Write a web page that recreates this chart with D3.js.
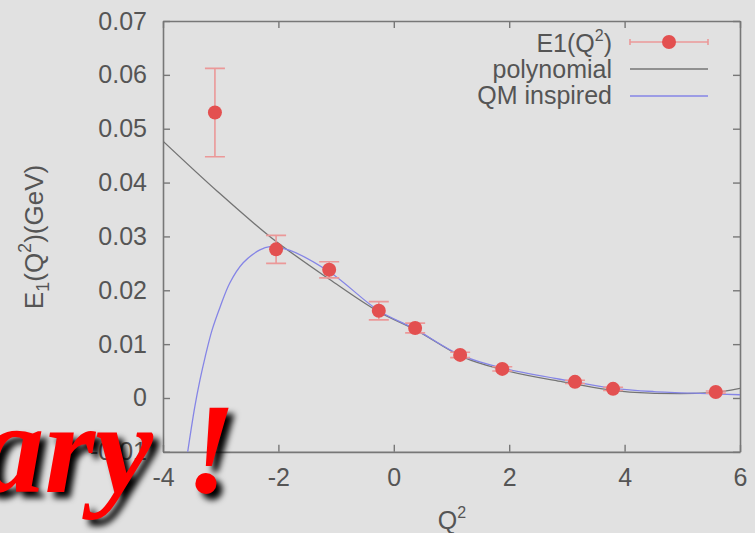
<!DOCTYPE html>
<html>
<head>
<meta charset="utf-8">
<script src="https://cdn.jsdelivr.net/npm/d3@7"></script>
<style>
  html, body { margin: 0; padding: 0; background: #e1e1e1; }
  svg { display: block; }
</style>
</head>
<body>
<svg id="chart" width="755" height="533"></svg>
<script>
// ---- data ----
const pointQ2   = [-3.10, -2.04, -1.12, -0.26, 0.37, 1.15, 1.88, 3.14, 3.80, 5.58];
const pointE1   = [0.0530, 0.0276, 0.0238, 0.0162, 0.0130, 0.0080, 0.0054, 0.0030, 0.0017, 0.0011];
const pointErr  = [0.0082, 0.0026, 0.0015, 0.0017, 0.0009, 0.0005, 0.0004, 0.0003, 0.0003, 0.0002];

const polyQ2 = [-4.0, -3.06, -2.15, -1.11, -0.26, 0.37, 1.2, 1.9, 2.93, 4.09, 4.96, 5.5, 6.0];
const polyE1 = [0.0477, 0.0384, 0.0300, 0.0220, 0.0160, 0.0127, 0.0076, 0.0052, 0.0030, 0.0011, 0.0008, 0.0010, 0.0018];

const qmQ2 = [-3.60, -3.45, -3.36, -3.27, -3.15, -3.01, -2.84, -2.61, -2.32, -2.15, -1.80, -1.10, -0.26, 0.37, 1.15, 1.9, 3.14, 3.8, 4.5, 5.5, 6.0];
const qmE1 = [-0.0120, -0.0017, 0.0033, 0.0076, 0.0126, 0.0169, 0.0214, 0.0251, 0.0275, 0.0281, 0.0274, 0.0233, 0.0162, 0.0128, 0.0080, 0.0055, 0.0030, 0.0018, 0.0012, 0.0008, 0.0006];

const xTicks = [-4, -2, 0, 2, 4, 6];
const xTickLabels = ["-4", "-2", "0", "2", "4", "6"];
const yTicks = [-0.01, 0, 0.01, 0.02, 0.03, 0.04, 0.05, 0.06, 0.07];
const yTickLabels = ["-0.01", "0", "0.01", "0.02", "0.03", "0.04", "0.05", "0.06", "0.07"];
const legendLabels = ["E1(Q²)", "polynomial", "QM inspired"];

// ---- drawing ----
const SANS = "'Liberation Sans', Arial, Helvetica, sans-serif";
const SERIF = "'Liberation Serif', 'Times New Roman', Times, serif";
const txtColor = "#555";
const svg = d3.select("#chart");
const L = 163, R = 740, T = 21, B = 451.85;
const x = d3.scaleLinear().domain([-4, 6]).range([L, R]);
const y = d3.scaleLinear().domain([-0.01, 0.07]).range([B, T]);

const defs = svg.append("defs");
defs.append("clipPath").attr("id", "plotclip")
  .append("rect").attr("x", L).attr("y", T).attr("width", R - L).attr("height", B - T);
const f = defs.append("filter").attr("id", "shadow").attr("x", "-20%").attr("y", "-30%").attr("width", "140%").attr("height", "160%");
f.append("feGaussianBlur").attr("stdDeviation", 3);

const axisColor = "#777";
const tickLen = 7;

const gxB = svg.append("g").attr("transform", `translate(0,${B})`)
  .call(d3.axisBottom(x).tickValues(xTicks).tickSizeInner(-tickLen).tickSizeOuter(0).tickPadding(16)
        .tickFormat((d, i) => xTickLabels[i]));
const gxT = svg.append("g").attr("transform", `translate(0,${T})`)
  .call(d3.axisTop(x).tickValues(xTicks).tickSizeInner(-tickLen).tickSizeOuter(0).tickFormat(""));
const gyL = svg.append("g").attr("transform", `translate(${L},0)`)
  .call(d3.axisLeft(y).tickValues(yTicks).tickSizeInner(-tickLen).tickSizeOuter(0).tickPadding(16)
        .tickFormat((d, i) => yTickLabels[i]));
const gyR = svg.append("g").attr("transform", `translate(${R},0)`)
  .call(d3.axisRight(y).tickValues(yTicks).tickSizeInner(-tickLen).tickSizeOuter(0).tickFormat(""));

[gxB, gxT, gyL, gyR].forEach(g => {
  g.attr("font-family", null).attr("font-size", null);
  g.select(".domain").attr("stroke", axisColor).attr("stroke-width", 1.6);
  g.selectAll(".tick line").attr("stroke", axisColor).attr("stroke-width", 1.4);
  g.selectAll(".tick text").style("font-size", "25px").style("fill", txtColor).style("font-family", SANS);
});
gxB.selectAll(".tick text").attr("dy", "0.71em");

// Curves
const plot = svg.append("g").attr("clip-path", "url(#plotclip)");
plot.append("path").datum(polyQ2.map((q, i) => [q, polyE1[i]]))
  .attr("d", d3.line().x(d => x(d[0])).y(d => y(d[1])).curve(d3.curveMonotoneX))
  .attr("fill", "none").attr("stroke", "#747474").attr("stroke-width", 1.3);
plot.append("path").datum(qmQ2.map((q, i) => [q, qmE1[i]]))
  .attr("d", d3.line().x(d => x(d[0])).y(d => y(d[1])).curve(d3.curveCatmullRom.alpha(0.5)))
  .attr("fill", "none").attr("stroke", "#8585e6").attr("stroke-width", 1.3);

// Error bars and points
const pts = pointQ2.map((q, i) => ({ q, v: pointE1[i], e: pointErr[i] }));
const errColor = "#eb9898";
const capHalf = 10;
const eg = plot.append("g");
eg.selectAll("line.v").data(pts).join("line")
  .attr("x1", d => x(d.q)).attr("x2", d => x(d.q))
  .attr("y1", d => y(d.v - d.e)).attr("y2", d => y(d.v + d.e))
  .attr("stroke", errColor).attr("stroke-width", 1.6);
eg.selectAll("line.ct").data(pts).join("line")
  .attr("x1", d => x(d.q) - capHalf).attr("x2", d => x(d.q) + capHalf)
  .attr("y1", d => y(d.v + d.e)).attr("y2", d => y(d.v + d.e))
  .attr("stroke", errColor).attr("stroke-width", 1.6);
eg.selectAll("line.cb").data(pts).join("line")
  .attr("x1", d => x(d.q) - capHalf).attr("x2", d => x(d.q) + capHalf)
  .attr("y1", d => y(d.v - d.e)).attr("y2", d => y(d.v - d.e))
  .attr("stroke", errColor).attr("stroke-width", 1.6);
plot.append("g").selectAll("circle").data(pts).join("circle")
  .attr("cx", d => x(d.q)).attr("cy", d => y(d.v)).attr("r", 7)
  .attr("fill", "#e35050");

// Legend
const legX = 612, legL1 = 630, legL2 = 708;
const legBase = [52, 78, 104];
const lg = svg.append("g");
legendLabels.forEach((lab, i) => {
  const t = lg.append("text").attr("x", legX).attr("y", legBase[i]).attr("text-anchor", "end")
    .style("font-size", "25px").style("font-family", SANS).style("fill", txtColor);
  if (i === 0) {
    t.append("tspan").text("E1(Q");
    t.append("tspan").text("2").style("font-size", "16px").attr("dy", -11);
    t.append("tspan").text(")").attr("dy", 11);
  } else {
    t.text(lab);
  }
});
const ly0 = legBase[0] - 10;
lg.append("line").attr("x1", legL1).attr("x2", legL2).attr("y1", ly0).attr("y2", ly0)
  .attr("stroke", errColor).attr("stroke-width", 1.6);
[legL1, legL2].forEach(xx => lg.append("line").attr("x1", xx).attr("x2", xx)
  .attr("y1", ly0 - 3).attr("y2", ly0 + 3).attr("stroke", errColor).attr("stroke-width", 1.6));
lg.append("circle").attr("cx", (legL1 + legL2) / 2).attr("cy", ly0).attr("r", 7).attr("fill", "#e35050");
lg.append("line").attr("x1", legL1).attr("x2", legL2).attr("y1", legBase[1] - 9).attr("y2", legBase[1] - 9)
  .attr("stroke", "#747474").attr("stroke-width", 1.3);
lg.append("line").attr("x1", legL1).attr("x2", legL2).attr("y1", legBase[2] - 8).attr("y2", legBase[2] - 8)
  .attr("stroke", "#8585e6").attr("stroke-width", 1.3);

// Axis titles
const yl = svg.append("text").attr("transform", "translate(43,237) rotate(-90)")
  .attr("text-anchor", "middle").style("font-size", "26px").style("font-family", SANS).style("fill", txtColor);
yl.append("tspan").text("E");
yl.append("tspan").text("1").style("font-size", "18px").attr("dy", 6);
yl.append("tspan").text("(Q").attr("dy", -6);
yl.append("tspan").text("2").style("font-size", "18px").attr("dy", -12);
yl.append("tspan").text(")(GeV)").attr("dy", 12);

const xl = svg.append("text").attr("x", 452).attr("y", 529).attr("text-anchor", "middle")
  .style("font-size", "25px").style("font-family", SANS).style("fill", txtColor);
xl.append("tspan").text("Q");
xl.append("tspan").text("2").style("font-size", "16px").attr("dy", -11);

// "Preliminary !" overlay
const stamp = "Preliminary !";
const sg = svg.append("g");
sg.append("text").attr("x", 242).attr("y", 498).attr("text-anchor", "end")
  .style("font-family", SERIF).style("font-weight", "bold").style("font-style", "italic").style("font-size", "130px")
  .style("fill", "#000").attr("filter", "url(#shadow)").text(stamp);
sg.append("text").attr("x", 236).attr("y", 492).attr("text-anchor", "end")
  .style("font-family", SERIF).style("font-weight", "bold").style("font-style", "italic").style("font-size", "130px")
  .style("fill", "#ff0000").text(stamp);
</script>
</body>
</html>
